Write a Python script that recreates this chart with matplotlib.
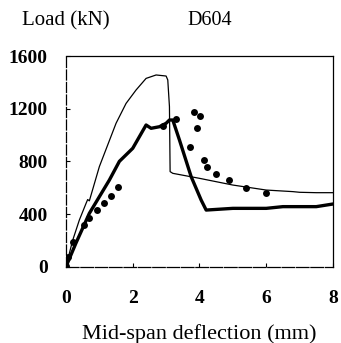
import numpy as np
import matplotlib.pyplot as plt

# Thin line (upper analytical curve)
thin_x = [0, 0.2, 0.4, 0.6, 0.65, 0.7, 1.0, 1.5, 1.8, 2.1, 2.4, 2.7, 3.0, 3.05, 3.1, 3.12, 3.2, 4.0, 5.0, 6.0, 6.8, 7.0, 7.5, 8.0]
thin_y = [0, 200, 354, 480, 510, 500, 760, 1089, 1240, 1342, 1430, 1456, 1448, 1418, 1215, 722, 709, 671, 620, 582, 570, 565, 562, 562]

# Thick line (lower analytical curve)
thick_x = [0, 0.3, 0.7, 1.3, 1.6, 2.0, 2.4, 2.55, 2.8, 3.0, 3.1, 3.2, 3.4, 3.75, 4.05, 4.2, 5.0, 6.0, 6.5, 7.5, 8.0]
thick_y = [0, 180, 405, 658, 800, 899, 1076, 1051, 1063, 1089, 1114, 1114, 962, 684, 506, 430, 443, 443, 456, 456, 476]

# Test points
test_x = [0, 0.05, 0.2, 0.55, 0.7, 0.93, 1.13, 1.35, 1.57, 2.92, 3.3, 3.72, 3.83, 3.92, 4.03, 4.13, 4.23, 4.48, 4.88, 5.4, 6.0]
test_y = [8, 76, 190, 316, 369, 430, 480, 536, 602, 1068, 1122, 912, 1172, 1056, 1147, 810, 755, 701, 658, 600, 557]

xticks = [0, 2, 4, 6, 8]
yticks = [0, 400, 800, 1200, 1600]

plt.rcParams['font.family'] = ['Liberation Serif', 'DejaVu Serif']

fig = plt.figure(figsize=(3.41, 3.43), dpi=100)
ax = fig.add_axes([0.1935, 0.2225, 0.7830, 0.6142])

ax.plot(thin_x, thin_y, color='black', lw=0.9)
ax.plot(thick_x, thick_y, color='black', lw=2.4, solid_joinstyle='round')
ax.plot(test_x, test_y, 'o', color='black', ms=5.0, mew=0)

ax.set_xlim(0, 8)
ax.set_ylim(0, 1600)
ax.set_xticks(xticks)
ax.set_yticks(yticks)
ax.tick_params(direction='in', length=3, width=0.8, labelsize=14)
ax.tick_params(axis='x', pad=17)
ax.tick_params(axis='y', pad=13)
for lab in ax.get_xticklabels() + ax.get_yticklabels():
    lab.set_fontweight('bold')
for s in ax.spines.values():
    s.set_linewidth(0.9)
ax.spines['left'].set_linestyle((0, (8, 2)))
ax.spines['bottom'].set_linestyle((0, (10, 1.5)))

ax.set_xlabel('Mid-span deflection (mm)', fontsize=16, labelpad=12)
fig.text(0.065, 0.94, 'Load (kN)', fontsize=15, va='center')
fig.text(0.551, 0.94, 'D604', fontsize=14.5, va='center')

fig.savefig('out.png', dpi=100)
